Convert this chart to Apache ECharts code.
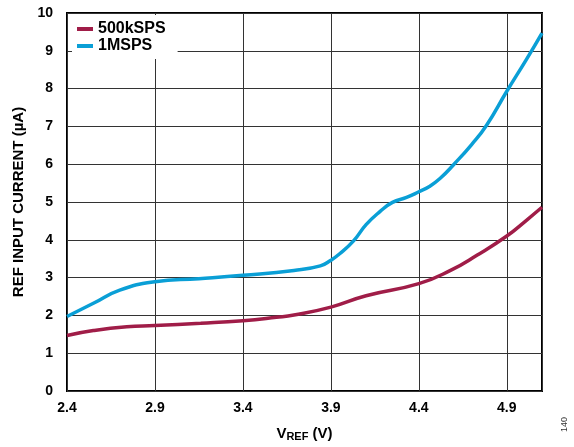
<!DOCTYPE html>
<html>
<head>
<meta charset="utf-8">
<script src="https://cdn.jsdelivr.net/npm/echarts@6/dist/echarts.min.js"></script>
<style>
html,body{margin:0;padding:0;background:#fff;}
#c{width:574px;height:447px;}
</style>
</head>
<body>
<div id="c"></div>
<script>
// 500kSPS series (VREF in V, current in µA)
var vref500k = [2.4, 2.55, 2.74, 2.9, 3.16, 3.4, 3.59, 3.69, 3.9, 4.1, 4.4, 4.58, 4.73, 4.9, 5.01, 5.1];
var cur500k  = [1.47, 1.60, 1.70, 1.73, 1.79, 1.86, 1.95, 2.01, 2.22, 2.52, 2.84, 3.19, 3.59, 4.10, 4.51, 4.86];
// 1MSPS series
var vref1M = [2.4, 2.55, 2.7, 2.9, 3.15, 3.4, 3.69, 3.84, 3.9, 3.95, 4.03, 4.1, 4.18, 4.25, 4.33, 4.4, 4.46, 4.52, 4.6, 4.7, 4.785, 4.9, 5.01, 5.1];
var cur1M  = [1.97, 2.32, 2.67, 2.89, 2.97, 3.06, 3.19, 3.31, 3.46, 3.63, 3.98, 4.40, 4.75, 4.99, 5.12, 5.27, 5.41, 5.62, 6.0, 6.52, 7.03, 7.93, 8.76, 9.47];
var seriesNames = ['500kSPS', '1MSPS'];
var xTicks = [2.4, 2.9, 3.4, 3.9, 4.4, 4.9];
var yTicks = [0, 1, 2, 3, 4, 5, 6, 7, 8, 9, 10];

function pairs(xs, ys){ return xs.map(function(x,i){ return [x, ys[i]]; }); }

var FONT = '"Liberation Sans", Arial, sans-serif';
var chart = echarts.init(document.getElementById('c'), null, {renderer:'canvas'});
chart.setOption({
  animation: false,
  backgroundColor: '#fff',
  grid: {left: 67, right: 32, top: 13, bottom: 54, show: true, borderColor: '#000', borderWidth: 2, backgroundColor: 'transparent'},
  legend: {
    data: seriesNames,
    orient: 'vertical',
    left: 72, top: 15,
    padding: [6, 12, 5, 5],
    itemGap: 1,
    itemWidth: 16, itemHeight: 4,
    icon: 'rect',
    backgroundColor: '#fff',
    textStyle: {fontFamily: FONT, fontWeight: 'bold', fontSize: 16, color: '#000'}
  },
  xAxis: {
    type: 'value', min: 2.4, max: 5.1, interval: 0.5,
    name: '{v|V}{s|REF}{v| (V)}',
    nameLocation: 'middle', nameGap: 34,
    nameTextStyle: {rich: {
      v: {fontFamily: FONT, fontWeight: 'bold', fontSize: 15, color: '#000'},
      s: {fontFamily: FONT, fontWeight: 'bold', fontSize: 11, color: '#000', verticalAlign: 'bottom', padding: [6,0,0,0]}
    }},
    axisLine: {show: false},
    axisTick: {show: false},
    axisLabel: {
      showMaxLabel: false, margin: 10,
      fontFamily: FONT, fontWeight: 'bold', fontSize: 14, color: '#000',
      formatter: function(v){ return xTicks.some(function(t){return Math.abs(t-v)<1e-6;}) ? v.toFixed(1) : ''; }
    },
    splitLine: {show: true, lineStyle: {color: '#333', width: 1}}
  },
  yAxis: {
    type: 'value', min: 0, max: 10, interval: 1,
    name: 'REF INPUT CURRENT (µA)',
    nameLocation: 'middle', nameGap: 39,
    nameTextStyle: {fontFamily: FONT, fontWeight: 'bold', fontSize: 15, color: '#000'},
    axisLine: {show: false},
    axisTick: {show: false},
    axisLabel: {margin: 14, fontFamily: FONT, fontWeight: 'bold', fontSize: 14, color: '#000',
      formatter: function(v){ return yTicks.indexOf(Math.round(v)) >= 0 ? String(Math.round(v)) : ''; }},
    splitLine: {show: true, lineStyle: {color: '#333', width: 1}}
  },
  series: [
    {name: seriesNames[0], type: 'line', data: pairs(vref500k, cur500k), smooth: 0.5, showSymbol: false, symbol: 'none',
     lineStyle: {color: '#a01d48', width: 3.5}, itemStyle: {color: '#a01d48'}, z: 3},
    {name: seriesNames[1], type: 'line', data: pairs(vref1M, cur1M), smooth: 0.5, showSymbol: false, symbol: 'none',
     lineStyle: {color: '#0a9fd6', width: 3.5}, itemStyle: {color: '#0a9fd6'}, z: 3}
  ],
  graphic: [{
    type: 'text', x: 560, y: 432, rotation: Math.PI/2,
    style: {text: '140', font: '9px ' + FONT, fill: '#333'}
  }]
});
</script>
</body>
</html>
